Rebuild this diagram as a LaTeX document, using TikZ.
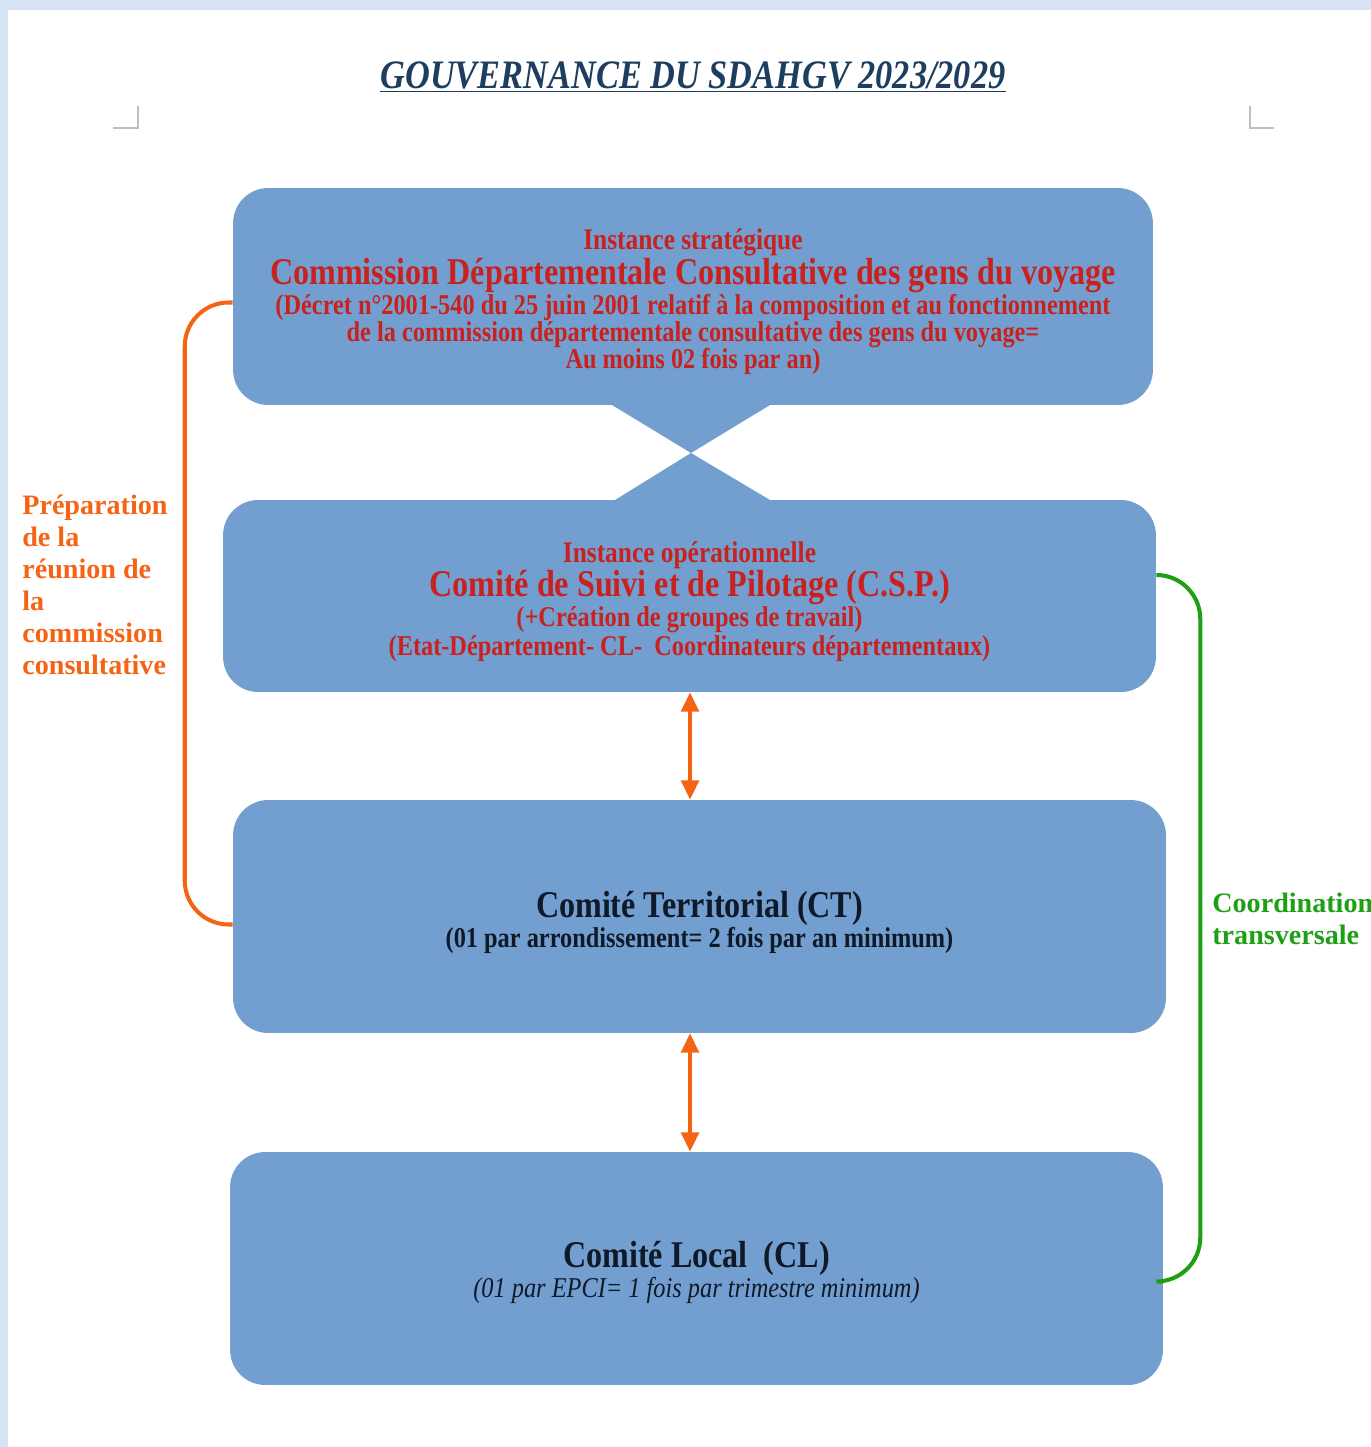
\documentclass[tikz,border=0pt]{standalone}
\usepackage{fontspec}
\setmainfont{Liberation Serif}
\newfontfamily\narrowserif[FakeStretch=0.85]{Liberation Serif}
\usetikzlibrary{calc,arrows.meta}
\definecolor{pageblue}{RGB}{213,227,244}
\definecolor{boxblue}{RGB}{114,159,207}
\definecolor{instred}{RGB}{201,33,30}
\definecolor{navytext}{RGB}{15,25,40}
\definecolor{titleblue}{RGB}{30,62,95}
\definecolor{prepor}{RGB}{245,100,20}
\definecolor{coordgreen}{RGB}{30,160,20}
\tikzset{
  instance/.style={fill=boxblue, rounded corners=20pt, inner sep=0pt, align=center,
    font=\narrowserif\bfseries\fontsize{16.3}{15.5}\selectfont},
  liaison/.style={draw=prepor, line width=2.3pt, {Triangle[length=11pt,width=10pt]}-{Triangle[length=11pt,width=10pt]}},
  bracket/.style={line width=2.3pt, rounded corners=25pt},
  sidelabel/.style={align=left, inner sep=0pt, font=\bfseries\fontsize{16}{18.2}\selectfont},
  cropmark/.style={draw=black!25, line width=0.8pt},
}
\begin{document}
\begin{tikzpicture}[x=0.02cm,y=-0.02cm]
\useasboundingbox (0,0) rectangle (1371,1447);
\fill[pageblue] (0,0) rectangle (1371,1447);
\fill[white] (8,10) rectangle (1371,1447);
\draw[cropmark] (113,128) -- (138,128) -- (138,106);
\draw[cropmark] (1250,106) -- (1250,128) -- (1274,128);
\node[text=titleblue, font=\narrowserif\bfseries\itshape\fontsize{23}{26}\selectfont] (titre) at (693,77) {\underline{GOUVERNANCE DU SDAHGV 2023/2029}};
% sablier
\fill[boxblue] (612,405) -- (770,405) -- (691,453) -- cycle;
\fill[boxblue] (691,453) -- (770,500) -- (615,500) -- cycle;
% instances
\node[instance, text=instred, minimum width=18.4cm, minimum height=4.34cm] (cdc) at (693,296.5) {
  \fontsize{17}{15.5}\selectfont\rule{0pt}{18pt}Instance stratégique\\
  \fontsize{21.5}{15.5}\selectfont Commission Départementale Consultative des gens du voyage\\
  (Décret n°2001-540 du 25 juin 2001 relatif à la composition et au fonctionnement\\
  de la commission départementale consultative des gens du voyage=\\
  Au moins 02 fois par an)};
\node[instance, text=instred, minimum width=18.66cm, minimum height=3.84cm] (csp) at (689.5,596) {
  \fontsize{17}{15.5}\selectfont\rule{0pt}{18pt}Instance opérationnelle\\
  \fontsize{21.5}{15.5}\selectfont Comité de Suivi et de Pilotage (C.S.P.)\\
  (+Création de groupes de travail)\\[1pt]
  (Etat-Département- CL-\ \ Coordinateurs départementaux)};
\node[instance, text=navytext, minimum width=18.66cm, minimum height=4.66cm] (ct) at (699.5,916.5) {
  \fontsize{21.5}{15.5}\selectfont\rule{0pt}{21.5pt}Comité Territorial (CT)\\[-0.2pt]
  (01 par arrondissement= 2 fois par an minimum)};
\node[instance, text=navytext, minimum width=18.66cm, minimum height=4.66cm] (cl) at (696.5,1268.5) {
  \fontsize{21.5}{15.5}\selectfont\rule{0pt}{19.5pt}Comité Local\ \ (CL)\\[0.3pt]
  \mdseries\itshape (01 par EPCI= 1 fois par trimestre minimum)};
% liaisons
\coordinate (axe) at (690,0);
\draw[liaison] (csp.south -| axe) -- (ct.north -| axe);
\draw[liaison] (ct.south -| axe) -- (cl.north -| axe);
\draw[bracket, draw=prepor] ($(cdc.west)+(0,6)$) -| ($(ct.west)+(-48,8)$) -- ($(ct.west)+(0,8)$);
\draw[bracket, draw=coordgreen] ($(csp.east)+(0,-21)$) -| ($(cl.east)+(37,13)$) -- ($(cl.east)+(0,13)$);
\node[sidelabel, text=prepor, anchor=west] (prep) at (22,585) {Préparation\\de la\\réunion de\\la\\commission\\consultative};
\node[sidelabel, text=coordgreen, anchor=west] (coord) at (1212,919) {Coordination\\transversale};
\end{tikzpicture}
\end{document}
